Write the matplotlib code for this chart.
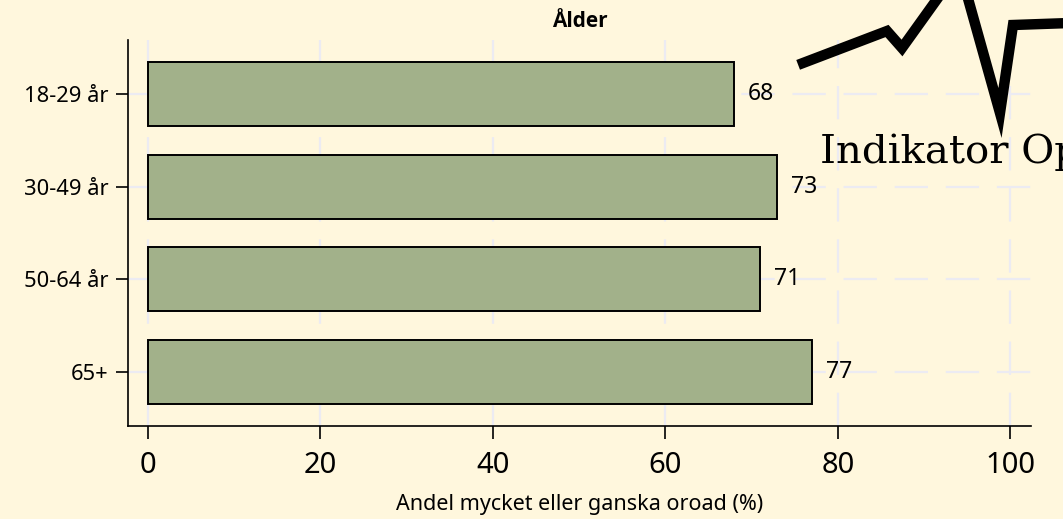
import matplotlib.pyplot as plt
from matplotlib.lines import Line2D

groups = ["18-29 år", "30-49 år", "50-64 år", "65+"]
shares = [68, 73, 71, 77]
x_ticks = [0, 20, 40, 60, 80, 100]

bg = "#FFF7DD"
bar_color = "#A2B18A"
grid_color = "#ECEBF2"

plt.rcParams["font.family"] = ["Noto Sans", "DejaVu Sans"]

fig = plt.figure(figsize=(10.63, 5.19), dpi=100, facecolor=bg)
ax = fig.add_axes([128 / 1063, 1 - 426 / 519, (1031 - 128) / 1063, (426 - 40) / 519])
ax.set_facecolor(bg)

pos = list(range(len(groups)))
ax.barh(pos, shares, height=0.69, color=bar_color, edgecolor="black", linewidth=1.4, zorder=3)
for p, v in zip(pos, shares):
    ax.text(v + 1.6, p, str(v), va="center", ha="left", fontsize=16.5, zorder=4)

ax.set_xlim(-2.32, 102.4)
ax.set_ylim(3.58, -0.58)
ax.set_yticks(pos)
ax.set_yticklabels(groups, fontsize=15.8)
ax.set_xticks(x_ticks)
ax.set_xticklabels([str(t) for t in x_ticks], fontsize=21)
ax.tick_params(axis="both", direction="out", length=9, width=1.2, colors="black")
ax.tick_params(axis="x", pad=9)
ax.tick_params(axis="y", pad=5)

ax.grid(True, color=grid_color, linestyle=(0, (15, 8)), linewidth=1.6, zorder=0)
for side in ["top", "right"]:
    ax.spines[side].set_visible(False)
for side in ["left", "bottom"]:
    ax.spines[side].set_linewidth(1.2)

ax.set_xlabel("Andel mycket eller ganska oroad (%)", fontsize=15.5, labelpad=10)
fig.text(580 / 1063, 1 - 22 / 519, "Ålder", fontsize=15, fontweight="bold",
         family="Open Sans", ha="center", va="center")

# logo in the upper right corner
lx = [803, 887, 902, 940, 967, 1000, 1013, 1070]
ly = [63, 31, 48, -5, -5, 113, 25, 23]
fig.add_artist(Line2D([x / 1063 for x in lx], [1 - y / 519 for y in ly],
                      transform=fig.transFigure, color="black", linewidth=7.5,
                      solid_joinstyle="miter", zorder=10))
fig.text(820 / 1063, 1 - 163 / 519, "Indikator Op", fontsize=29,
         family="DejaVu Serif", ha="left", va="baseline", zorder=10)

fig.savefig("out.png", dpi=100, facecolor=bg)
